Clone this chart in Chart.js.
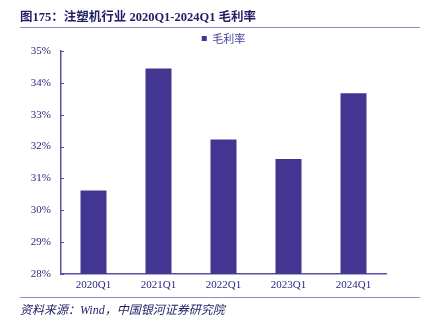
<!DOCTYPE html>
<html>
<head>
<meta charset="utf-8">
<script src="https://cdn.jsdelivr.net/npm/chart.js@4.4.1/dist/chart.umd.min.js"></script>
<style>
  body { margin: 0; background: #fff; }
  #wrap { position: relative; width: 425px; height: 325px; }
  #title {
    position: absolute; left: 20px; top: 6px; width: 400px;
    font: bold 12.5px "Liberation Serif", "Noto Sans CJK SC", serif;
    color: #1f1d66; padding-bottom: 2px; border-bottom: 1px solid #8f88c4;
  }
  #source {
    position: absolute; left: 20px; top: 297px; width: 400px;
    font: italic 12px "Liberation Serif", "Noto Sans CJK SC", serif;
    color: #1f1d66; padding-top: 2px; border-top: 1px solid #8f88c4;
  }
</style>
</head>
<body>
<div id="wrap">
  <canvas id="chart" width="425" height="325"></canvas>
  <div id="title">图175：注塑机行业 2020Q1-2024Q1 毛利率</div>
  <div id="source">资料来源：Wind，中国银河证券研究院</div>
</div>
<script>
const quarters = ["2020Q1", "2021Q1", "2022Q1", "2023Q1", "2024Q1"];
const grossMargin = [30.62, 34.45, 32.22, 31.61, 33.67];
const seriesName = "毛利率";
const yMin = 28, yMax = 35, yStep = 1;

const navy = "#2a2880";
const barColor = "#433692";
const axisColor = "#5b50a3";

// short ticks drawn on the inside of the y axis
const insideTicks = {
    id: "insideTicks",
    afterDraw(chart) {
        const y = chart.scales.y;
        const ctx = chart.ctx;
        ctx.save();
        ctx.strokeStyle = axisColor;
        ctx.lineWidth = 1;
        y.ticks.forEach(function (t) {
            const py = Math.round(y.getPixelForValue(t.value)) + 0.5;
            ctx.beginPath();
            ctx.moveTo(y.right, py);
            ctx.lineTo(y.right + 3, py);
            ctx.stroke();
        });
        ctx.restore();
    }
};

// nudge the legend down a little, closer to the plot
const legendNudge = {
    id: "legendNudge",
    afterLayout(chart) {
        if (chart.legend) {
            chart.legend.top += 3;
            chart.legend.bottom += 3;
        }
    }
};

document.addEventListener("DOMContentLoaded", function () {
    const ctx = document.getElementById("chart").getContext("2d");
    new Chart(ctx, {
        type: "bar",
        data: {
            labels: quarters,
            datasets: [{
                label: seriesName,
                data: grossMargin,
                backgroundColor: barColor,
                borderWidth: 0,
                categoryPercentage: 1,
                barPercentage: 0.4
            }]
        },
        options: {
            responsive: false,
            animation: false,
            layout: { padding: { left: 0, right: 39, top: 29, bottom: 31 } },
            plugins: {
                legend: {
                    position: "top",
                    fullSize: false,
                    labels: {
                        boxWidth: 5,
                        boxHeight: 5,
                        padding: 1,
                        color: "#4a44a0",
                        font: { family: "'Noto Sans CJK SC'", size: 11 }
                    }
                },
                tooltip: { enabled: false }
            },
            scales: {
                x: {
                    grid: { display: false, drawTicks: false, tickLength: 0 },
                    border: { color: axisColor, width: 1.5 },
                    ticks: {
                        color: navy,
                        padding: 5,
                        font: { family: "'Liberation Serif'", size: 11 }
                    },
                    afterFit(scale) { scale.height = 20; }
                },
                y: {
                    min: yMin,
                    max: yMax,
                    grid: { display: false, drawTicks: false, tickLength: 0 },
                    border: { color: axisColor, width: 1.5 },
                    ticks: {
                        stepSize: yStep,
                        color: navy,
                        padding: 10,
                        font: { family: "'Liberation Serif'", size: 11 },
                        callback: function (v) { return v + "%"; }
                    },
                    afterFit(scale) { scale.width = 61; }
                }
            }
        },
        plugins: [insideTicks, legendNudge]
    });
});
</script>
</body>
</html>
